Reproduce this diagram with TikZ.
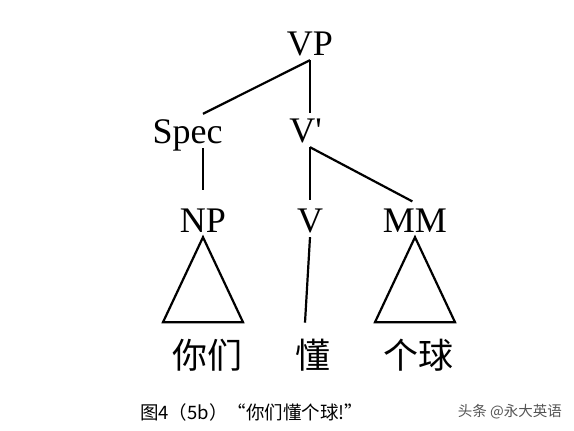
\documentclass[tikz,border=0pt]{standalone}
\usepackage{fontspec}
\setmainfont{Liberation Serif}
\newfontfamily\cjk{Noto Sans CJK SC}
\usetikzlibrary{calc}
\usetikzlibrary{positioning}
\definecolor{markgray}{RGB}{85,85,85}

\begin{document}
\begin{tikzpicture}[x=1pt,y=-1pt,
    cat/.style={font=\fontsize{36}{36}\selectfont,inner xsep=0pt,inner ysep=5pt,
      text height=24pt,text depth=0pt,anchor=base},
    word/.style={font=\cjk\fontsize{35}{35}\selectfont,inner sep=0pt},
    branch/.style={draw,line width=2.2pt},
    caption/.style={font=\cjk\fontsize{18.5}{18.5}\selectfont,inner sep=0pt}]

  \useasboundingbox [fill=white] (0,0) rectangle (574,431);

  % categories
  \node [cat] (VP)   at (310,55)  {VP};
  \node [cat] (Spec) at (187.5,143) {Spec};
  \node [cat] (Vbar) at (305.5,142) {V\textquotesingle};
  \node [cat] (NP)   at (203,232) {NP};
  \node [cat] (V)    at (310,232) {V};
  \node [cat] (MM)   at (415,232) {MM};

  % words
  \node [word] (nimen)  at (207,355) {你们};
  \node [word] (dong)   at (313,355) {懂};
  \node [word] (geqiu)  at (418,355) {个球};

  \path [branch]
    (VP.south) edge (Spec.north -| NP)
    (VP.south) edge (Vbar.north -| V)
    (Vbar.south -| V) edge [shorten >=3pt] (V.north)
    (Vbar.south -| V) edge [shorten >=3pt] (MM.north);

  \path [branch,shorten >=13pt] (Spec.south -| NP) -- (NP.north);

  \path [branch] (V.south) -- ($(V.south |- nimen.north)+(-5,-16)$);

  \path [branch]
    (NP.south) -- ++(-40,85) -- ++(80,0) -- cycle
    (MM.south) -- ++(-40,85) -- ++(80,0) -- cycle;

  % caption
  \node [caption,anchor=west] (cap) at (140,412) {图4（5b）“你们懂个球!”};
  \node [caption,anchor=east,font=\cjk\fontsize{14.5}{14.5}\selectfont,text=markgray] (mark) at (562,412) {头条 @永大英语};

\end{tikzpicture}
\end{document}
